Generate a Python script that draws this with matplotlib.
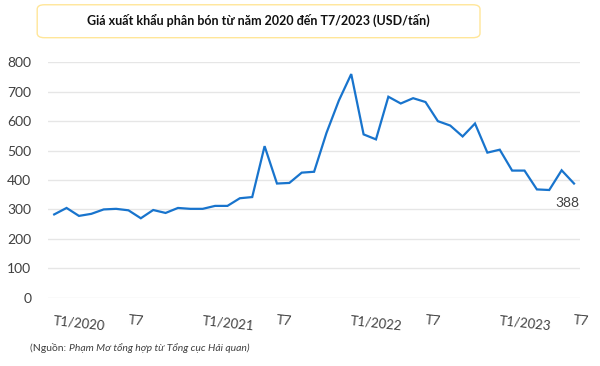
import matplotlib.pyplot as plt
from matplotlib.patches import FancyBboxPatch

plt.rcParams['font.family'] = ['Lato', 'DejaVu Sans']

# Giá xuất khẩu phân bón theo tháng, T1/2020 - T7/2023 (USD/tấn)
prices = [283, 305, 278, 285, 300, 302, 297, 270, 298, 288, 305, 302,
          302, 312, 312, 338, 342, 515, 388, 390, 425, 428, 560, 670,
          760, 555, 538, 683, 660, 678, 665, 600, 585, 548, 592, 493,
          503, 432, 432, 368, 366, 433, 388]
months = list(range(len(prices)))
tick_pos = [0, 6, 12, 18, 24, 30, 36, 42]
tick_labels = ['T1/2020', 'T7', 'T1/2021', 'T7', 'T1/2022', 'T7', 'T1/2023', 'T7']
y_ticks = [0, 100, 200, 300, 400, 500, 600, 700, 800]

fig = plt.figure(figsize=(6, 3.66), dpi=100)
ax = fig.add_axes([0.08, 0.1866, 0.887, 0.6432])

ax.plot(months, prices, color='#1874CD', lw=1.6, solid_joinstyle='miter')
ax.annotate(str(prices[-1]), (months[-1], prices[-1]), xytext=(-5, -14),
            textcoords='offset points', ha='center', va='center',
            fontsize=10, color='#404040')

ax.set_xlim(-0.5, 42.5)
ax.set_ylim(0, 800)
ax.set_yticks(y_ticks)
ax.tick_params(axis='y', length=0, labelsize=10, labelcolor='#404040', pad=12)
ax.grid(axis='y', color='#e6e6e6', lw=1)
ax.set_axisbelow(True)
for s in ax.spines.values():
    s.set_visible(False)

ax.set_xticks(tick_pos)
ax.set_xticklabels(tick_labels, rotation=-6, ha='left', rotation_mode='anchor',
                   fontsize=9.5, color='#404040')
ax.tick_params(axis='x', length=0, pad=12)

# khung tiêu đề
box = FancyBboxPatch((0.062, 0.897), 0.738, 0.09, boxstyle='round,pad=0,rounding_size=0.012',
                     transform=fig.transFigure, facecolor='white', edgecolor='#FFE699', lw=1)
fig.patches.append(box)
fig.text(0.431, 0.944, 'Giá xuất khẩu phân bón từ năm 2020 đến T7/2023 (USD/tấn)',
         ha='center', va='center', fontsize=9, fontweight='bold', color='#111111')

# nguồn
src = fig.text(0.05, 0.05, '(Nguồn: ', fontsize=7.5, color='#404040', va='center')
fig.canvas.draw()
bb = src.get_window_extent().transformed(fig.transFigure.inverted())
fig.text(bb.x1, 0.05, 'Phạm Mơ tổng hợp từ Tổng cục Hải quan)', fontsize=7.5,
         style='italic', color='#404040', va='center')

fig.savefig('out.png', dpi=100)
